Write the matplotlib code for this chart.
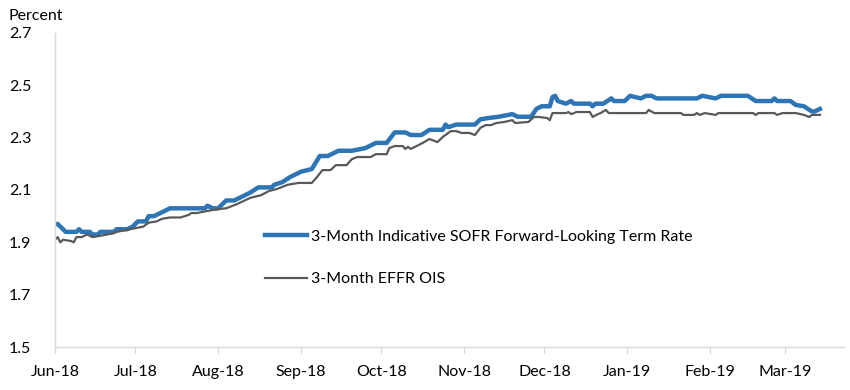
import pandas as pd
import matplotlib
matplotlib.use("Agg")
import matplotlib.pyplot as plt
import matplotlib.dates as mdates

# 3-Month Indicative SOFR Forward-Looking Term Rate
sofr_dates = ["2018-06-01", "2018-06-02", "2018-06-05", "2018-06-09", "2018-06-10", "2018-06-11",
              "2018-06-14", "2018-06-15", "2018-06-17", "2018-06-18", "2018-06-23", "2018-06-24",
              "2018-06-28", "2018-06-30", "2018-07-02", "2018-07-05", "2018-07-06", "2018-07-08",
              "2018-07-12", "2018-07-14", "2018-07-27", "2018-07-28", "2018-07-30", "2018-08-01",
              "2018-08-02", "2018-08-04", "2018-08-07", "2018-08-11", "2018-08-13", "2018-08-16",
              "2018-08-21", "2018-08-22", "2018-08-25", "2018-08-28", "2018-09-01", "2018-09-05",
              "2018-09-08", "2018-09-11", "2018-09-15", "2018-09-20", "2018-09-25", "2018-09-29",
              "2018-10-03", "2018-10-06", "2018-10-10", "2018-10-12", "2018-10-16", "2018-10-19",
              "2018-10-24", "2018-10-25", "2018-10-26", "2018-10-29", "2018-11-05", "2018-11-07",
              "2018-11-10", "2018-11-14", "2018-11-19", "2018-11-21", "2018-11-26", "2018-11-28",
              "2018-11-30", "2018-12-03", "2018-12-04", "2018-12-05", "2018-12-06", "2018-12-09",
              "2018-12-11", "2018-12-12", "2018-12-18", "2018-12-19", "2018-12-20", "2018-12-23",
              "2018-12-26", "2018-12-27", "2018-12-31", "2019-01-02", "2019-01-06", "2019-01-08",
              "2019-01-10", "2019-01-12", "2019-01-27", "2019-01-29", "2019-02-03", "2019-02-05",
              "2019-02-15", "2019-02-18", "2019-02-24", "2019-02-25", "2019-02-26", "2019-03-03",
              "2019-03-05", "2019-03-08", "2019-03-11", "2019-03-12", "2019-03-14"]
sofr_vals = [1.97, 1.97, 1.94, 1.94, 1.95, 1.94,
             1.94, 1.93, 1.93, 1.94, 1.94, 1.95,
             1.95, 1.96, 1.98, 1.98, 2.00, 2.00,
             2.02, 2.03, 2.03, 2.04, 2.03, 2.03,
             2.04, 2.06, 2.06, 2.08, 2.09, 2.11,
             2.11, 2.12, 2.13, 2.15, 2.17, 2.18,
             2.23, 2.23, 2.25, 2.25, 2.26, 2.28,
             2.28, 2.32, 2.32, 2.31, 2.31, 2.33,
             2.33, 2.35, 2.34, 2.35, 2.35, 2.37,
             2.375, 2.38, 2.39, 2.38, 2.38, 2.41,
             2.42, 2.42, 2.455, 2.46, 2.44, 2.43,
             2.44, 2.43, 2.43, 2.42, 2.43, 2.43,
             2.45, 2.44, 2.44, 2.46, 2.45, 2.46,
             2.46, 2.45, 2.45, 2.46, 2.45, 2.46,
             2.46, 2.44, 2.44, 2.45, 2.44, 2.44,
             2.425, 2.42, 2.40, 2.40, 2.41]

# 3-Month EFFR OIS
ois_dates = ["2018-06-01", "2018-06-02", "2018-06-03", "2018-06-04", "2018-06-07", "2018-06-08",
             "2018-06-09", "2018-06-11", "2018-06-13", "2018-06-15", "2018-06-18", "2018-06-23",
             "2018-06-24", "2018-06-29", "2018-07-04", "2018-07-06", "2018-07-09", "2018-07-11",
             "2018-07-14", "2018-07-18", "2018-07-21", "2018-07-22", "2018-07-24", "2018-07-28",
             "2018-08-01", "2018-08-04", "2018-08-08", "2018-08-13", "2018-08-17", "2018-08-20",
             "2018-08-23", "2018-08-27", "2018-08-31", "2018-09-05", "2018-09-07", "2018-09-09",
             "2018-09-12", "2018-09-14", "2018-09-18", "2018-09-20", "2018-09-22", "2018-09-27",
             "2018-09-29", "2018-10-03", "2018-10-04", "2018-10-06", "2018-10-09", "2018-10-10",
             "2018-10-11", "2018-10-12", "2018-10-15", "2018-10-17", "2018-10-19", "2018-10-22",
             "2018-10-24", "2018-10-27", "2018-10-29", "2018-10-31", "2018-11-03", "2018-11-05",
             "2018-11-07", "2018-11-09", "2018-11-11", "2018-11-13", "2018-11-16", "2018-11-19",
             "2018-11-20", "2018-11-25", "2018-11-27", "2018-11-29", "2018-12-02", "2018-12-03",
             "2018-12-04", "2018-12-09", "2018-12-10", "2018-12-11", "2018-12-13", "2018-12-18",
             "2018-12-19", "2018-12-21", "2018-12-22", "2018-12-24", "2018-12-25", "2019-01-08",
             "2019-01-09", "2019-01-11", "2019-01-21", "2019-01-22", "2019-01-26", "2019-01-27",
             "2019-01-28", "2019-01-30", "2019-02-03", "2019-02-04", "2019-02-17", "2019-02-18",
             "2019-02-19", "2019-02-25", "2019-02-26", "2019-02-28", "2019-03-05", "2019-03-08",
             "2019-03-10", "2019-03-11", "2019-03-14"]
ois_vals = [1.91, 1.92, 1.90, 1.91, 1.905, 1.90,
            1.92, 1.92, 1.93, 1.92, 1.925, 1.935,
            1.94, 1.95, 1.96, 1.975, 1.98, 1.99,
            1.995, 1.995, 2.005, 2.012, 2.012, 2.02,
            2.027, 2.03, 2.046, 2.07, 2.08, 2.096,
            2.104, 2.12, 2.127, 2.127, 2.15, 2.176,
            2.176, 2.195, 2.195, 2.218, 2.226, 2.226,
            2.237, 2.237, 2.26, 2.268, 2.268, 2.257,
            2.265, 2.257, 2.272, 2.283, 2.295, 2.283,
            2.303, 2.325, 2.325, 2.318, 2.318, 2.31,
            2.337, 2.348, 2.348, 2.356, 2.36, 2.367,
            2.356, 2.36, 2.379, 2.379, 2.375, 2.367,
            2.394, 2.394, 2.398, 2.39, 2.398, 2.398,
            2.379, 2.39, 2.394, 2.406, 2.394, 2.394,
            2.406, 2.394, 2.394, 2.387, 2.387, 2.394,
            2.387, 2.394, 2.387, 2.394, 2.394, 2.387,
            2.394, 2.394, 2.387, 2.394, 2.394, 2.387,
            2.379, 2.387, 2.387]

month_ticks = pd.date_range("2018-06-01", "2019-03-01", freq="MS")
y_ticks = [1.5, 1.7, 1.9, 2.1, 2.3, 2.5, 2.7]

plt.rcParams['font.family'] = ['Lato', 'DejaVu Sans']

fig = plt.figure(figsize=(8.5, 3.9), dpi=100)
ax = fig.add_axes([55 / 850, 43 / 390, (844 - 55) / 850, (347 - 33) / 390])

ax.plot(pd.to_datetime(sofr_dates), sofr_vals, color='#2E75B6', linewidth=3.2,
        solid_joinstyle='round', label='3-Month Indicative SOFR Forward-Looking Term Rate')
ax.plot(pd.to_datetime(ois_dates), ois_vals, color='#595959', linewidth=1.6,
        label='3-Month EFFR OIS')

ax.set_xlim(pd.Timestamp("2018-06-01"), pd.Timestamp("2019-03-23"))
ax.set_ylim(1.5, 2.7)
ax.set_yticks(y_ticks)
ax.set_yticklabels([f"{v:.1f}" for v in y_ticks])
ax.set_xticks(month_ticks)
ax.xaxis.set_major_formatter(mdates.DateFormatter('%b-%y'))

for s in ['top', 'right']:
    ax.spines[s].set_visible(False)
for s in ['left', 'bottom']:
    ax.spines[s].set_color('#D9D9D9')
    ax.spines[s].set_linewidth(1.0)
ax.tick_params(axis='y', length=0, pad=17, labelsize=11.5)
ax.tick_params(axis='x', length=5, color='#D9D9D9', pad=8, labelsize=11.5)

fig.text(8 / 850, 1 - 16 / 390, 'Percent', fontsize=11.5, va='center', ha='left')

fig.legend(loc='center left', bbox_to_anchor=(265 / 850, 1 - 258 / 390),
           frameon=False, fontsize=11.5, handlelength=2.6, handletextpad=0.3,
           labelspacing=1.75, borderpad=0, borderaxespad=0)

fig.savefig('out.png', dpi=100)
